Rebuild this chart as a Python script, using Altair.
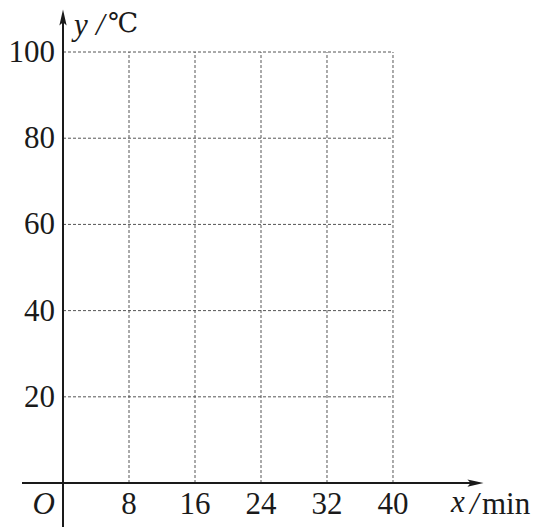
import altair as alt
import pandas as pd

# tick values
x_ticks = [8, 16, 24, 32, 40]
y_ticks = [20, 40, 60, 80, 100]
x_max = 40
y_max = 100

FONT = "Liberation Serif"
FS = 31
INK = "#1a1a1a"
GRID = "#555555"

W, H = 525, 522
xs = alt.Scale(domain=[-6.667, 56.97], nice=False, zero=False)
ys = alt.Scale(domain=[-10.9, 110.21], nice=False, zero=False)


def enc(ch):
    return ch.encode(x=alt.X("x:Q", scale=xs, axis=None), y=alt.Y("y:Q", scale=ys, axis=None))


vgrid = pd.DataFrame({"x": x_ticks, "y": [0] * len(x_ticks), "y2": [y_max] * len(x_ticks)})
hgrid = pd.DataFrame({"y": y_ticks, "x": [0] * len(y_ticks), "x2": [x_max] * len(y_ticks)})

dash = [3, 2]
v_lines = alt.Chart(vgrid).mark_rule(color=GRID, strokeWidth=1, strokeDash=dash).encode(
    x=alt.X("x:Q", scale=xs, axis=None),
    y=alt.Y("y:Q", scale=ys, axis=None),
    y2="y2:Q",
)
h_lines = alt.Chart(hgrid).mark_rule(color=GRID, strokeWidth=1, strokeDash=dash).encode(
    y=alt.Y("y:Q", scale=ys, axis=None),
    x=alt.X("x:Q", scale=xs, axis=None),
    x2="x2:Q",
)

# axis lines
xaxis_df = pd.DataFrame({"x": [-4.97], "x2": [50.0], "y": [0]})
yaxis_df = pd.DataFrame({"x": [0], "y": [-10.2], "y2": [108.0]})
x_axis = alt.Chart(xaxis_df).mark_rule(color=INK, strokeWidth=2).encode(
    x=alt.X("x:Q", scale=xs, axis=None), x2="x2:Q", y=alt.Y("y:Q", scale=ys, axis=None)
)
y_axis = alt.Chart(yaxis_df).mark_rule(color=INK, strokeWidth=2).encode(
    x=alt.X("x:Q", scale=xs, axis=None), y=alt.Y("y:Q", scale=ys, axis=None), y2="y2:Q"
)

arrow_path = "M -1 -0.45 L 1 0 L -1 0.45 L -0.6 0 Z"
arrow_up = "M -0.45 1 L 0 -1 L 0.45 1 L 0 0.6 Z"
xarrow = enc(alt.Chart(pd.DataFrame({"x": [50.0], "y": [0]})).mark_point(
    shape=arrow_path, filled=True, color=INK, size=260, opacity=1))
yarrow = enc(alt.Chart(pd.DataFrame({"x": [0], "y": [108.0]})).mark_point(
    shape=arrow_up, filled=True, color=INK, size=260, opacity=1))

# tick labels
xlab = alt.Chart(pd.DataFrame({"x": x_ticks, "y": [0] * len(x_ticks), "t": [str(v) for v in x_ticks]})).mark_text(
    font=FONT, fontSize=FS, color=INK, align="center", baseline="middle", dy=22
).encode(x=alt.X("x:Q", scale=xs, axis=None), y=alt.Y("y:Q", scale=ys, axis=None), text="t:N")
ylab = alt.Chart(pd.DataFrame({"x": [0] * len(y_ticks), "y": y_ticks, "t": [str(v) for v in y_ticks]})).mark_text(
    font=FONT, fontSize=FS, color=INK, align="right", baseline="middle", dx=-8, dy=1
).encode(x=alt.X("x:Q", scale=xs, axis=None), y=alt.Y("y:Q", scale=ys, axis=None), text="t:N")
olab = alt.Chart(pd.DataFrame({"x": [0], "y": [0], "t": ["O"]})).mark_text(
    font=FONT, fontSize=FS, color=INK, fontStyle="italic", align="right", baseline="middle", dx=-8, dy=22
).encode(x=alt.X("x:Q", scale=xs, axis=None), y=alt.Y("y:Q", scale=ys, axis=None), text="t:N")


def label(xv, yv, t, dx, dy, italic=False, font=FONT, size=FS):
    kw = dict(font=font, fontSize=size, color=INK, align="left", baseline="middle", dx=dx, dy=dy)
    if italic:
        kw["fontStyle"] = "italic"
    return alt.Chart(pd.DataFrame({"x": [xv], "y": [yv], "t": [t]})).mark_text(**kw).encode(
        x=alt.X("x:Q", scale=xs, axis=None), y=alt.Y("y:Q", scale=ys, axis=None), text="t:N"
    )


# axis titles
xt1 = label(x_max, 0, "x", 58, 20, italic=True)
xt2 = label(x_max, 0, "/", 77, 22, italic=True)
xt3 = label(x_max, 0, "min", 89, 22)
yt1 = label(0, y_max, "y", 11, -26, italic=True)
yt2 = label(0, y_max, "/", 33, -26, italic=True)
yt3 = label(0, y_max, "\u2103", 45, -28, font="DejaVu Serif", size=27)

chart = alt.layer(
    v_lines, h_lines, x_axis, y_axis, xarrow, yarrow, xlab, ylab, olab, xt1, xt2, xt3, yt1, yt2, yt3
).properties(
    width=W, height=H, autosize=alt.AutoSizeParams(type="none"), padding=0, background="white"
).configure_view(stroke=None)

chart.save("out.html", embed_options={"renderer": "svg", "actions": False})
